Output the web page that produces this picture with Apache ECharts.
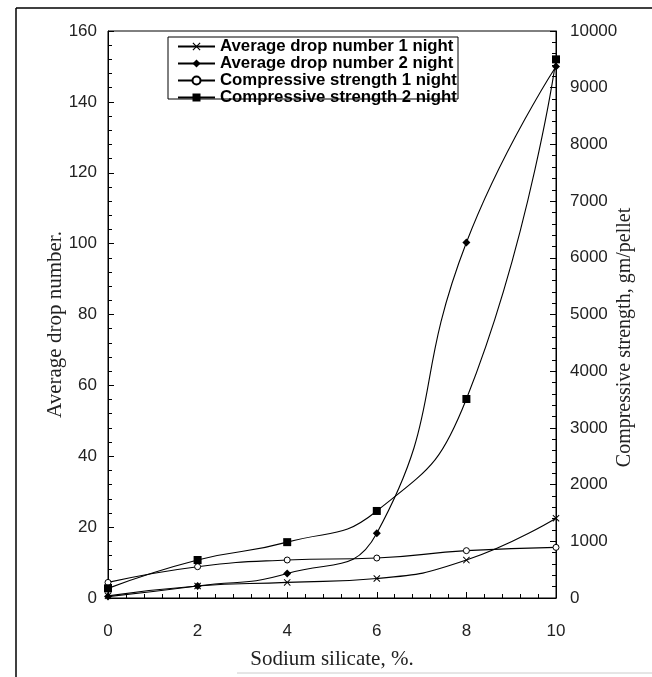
<!DOCTYPE html>
<html>
<head>
<meta charset="utf-8">
<script src="https://cdn.jsdelivr.net/npm/echarts@6/dist/echarts.min.js"></script>
<style>
  html, body { margin: 0; padding: 0; background: #fff; }
  #chart { width: 652px; height: 677px; }
</style>
</head>
<body>
<div id="chart"></div>
<script>
// values
const silicate = [0, 2, 4, 6, 8, 10];
const drop1Night = [0.6, 3.4, 4.4, 5.5, 10.7, 22.5];
const drop2Nights = [0.4, 3.4, 6.9, 18.3, 100.3, 150];
const strength1Night = [275, 552, 670, 705, 835, 893];
const strength2Nights = [170, 670, 985, 1535, 3510, 9500];

const seriesNames = [
    'Average drop number 1 night',
    'Average drop number 2 nights',
    'Compressive strength 1 night',
    'Compressive strength 2 nights'
];

const crossPath = 'path://M0,1L1,0L5,4L9,0L10,1L6,5L10,9L9,10L5,6L1,10L0,9L4,5Z';

function pairs(ys) {
    return silicate.map((x, i) => [x, ys[i]]);
}

const chart = echarts.init(document.getElementById('chart'));

const tickFont = { fontFamily: 'Liberation Sans, Arial, sans-serif', fontSize: 17, color: '#222' };
const serif = 'Liberation Serif, Times New Roman, serif';

const lineStyle = { color: '#000', width: 1.1 };

chart.setOption({
    animation: false,
    backgroundColor: '#fff',
    grid: {
        left: 108, right: 96, top: 31, bottom: 79,
        outerBoundsMode: 'none',
        show: true, borderColor: '#000', borderWidth: 1
    },
    legend: {
        orient: 'vertical',
        left: 177,
        top: 38,
        padding: 0,
        itemGap: 0,
        itemWidth: 37,
        itemHeight: 10,
        data: seriesNames,
        textStyle: {
            fontFamily: 'Liberation Sans, Arial, sans-serif',
            fontWeight: 'bold',
            fontSize: 16.8,
            lineHeight: 15.5,
            color: '#000',
            width: 241,
            overflow: 'truncate',
            ellipsis: ''
        }
    },
    xAxis: {
        type: 'value',
        min: 0, max: 10, interval: 2,
        name: 'Sodium silicate, %.',
        nameLocation: 'middle',
        nameGap: 51,
        nameMoveOverlap: false,
        nameTextStyle: { fontFamily: serif, fontSize: 21, color: '#222' },
        axisLine: { lineStyle: { color: '#000' } },
        axisTick: { inside: true, length: 6, lineStyle: { color: '#000' } },
        minorTick: { show: true, splitNumber: 5, length: 4, lineStyle: { color: '#000' } },
        axisLabel: Object.assign({ margin: 25 }, tickFont),
        splitLine: { show: false }
    },
    yAxis: [{
        type: 'value',
        min: 0, max: 160, interval: 20,
        name: 'Average drop number.',
        nameLocation: 'middle',
        nameGap: 42,
        nameMoveOverlap: false,
        nameRotate: 90,
        nameTextStyle: { fontFamily: serif, fontSize: 21, color: '#222', padding: [0, 20, 0, 0] },
        axisLine: { show: true, lineStyle: { color: '#000' } },
        axisTick: { show: true, inside: true, length: 6, lineStyle: { color: '#000' } },
        minorTick: { show: true, splitNumber: 5, length: 4, lineStyle: { color: '#000' } },
        axisLabel: Object.assign({ margin: 11 }, tickFont),
        splitLine: { show: false }
    }, {
        type: 'value',
        position: 'right',
        min: 0, max: 10000, interval: 1000,
        name: 'Compressive strength, gm/pellet',
        nameLocation: 'middle',
        nameGap: 59,
        nameMoveOverlap: false,
        nameRotate: 90,
        nameTextStyle: { fontFamily: serif, fontSize: 20, color: '#222', padding: [0, 46, 0, 0] },
        axisLine: { show: true, lineStyle: { color: '#000' } },
        axisTick: { show: true, inside: true, length: 6, lineStyle: { color: '#000' } },
        minorTick: { show: true, splitNumber: 5, length: 4, lineStyle: { color: '#000' } },
        axisLabel: Object.assign({ margin: 14, formatter: v => String(v) }, tickFont),
        splitLine: { show: false }
    }],
    graphic: [
        { type: 'line', shape: { x1: 16, y1: 8, x2: 652, y2: 8 }, style: { stroke: '#000', lineWidth: 1.5 } },
        { type: 'line', shape: { x1: 16, y1: 8, x2: 16, y2: 677 }, style: { stroke: '#000', lineWidth: 1.5 } },
        { type: 'line', shape: { x1: 237, y1: 673, x2: 652, y2: 673 }, style: { stroke: '#ccc', lineWidth: 1 } },
        { type: 'rect', shape: { x: 168, y: 37, width: 290, height: 62 }, style: { fill: 'none', stroke: '#000', lineWidth: 1 }, z: 100 }
    ],
    series: [{
        name: seriesNames[0],
        type: 'line',
        yAxisIndex: 0,
        data: pairs(drop1Night),
        smooth: true,
        symbol: crossPath,
        symbolSize: 7,
        itemStyle: { color: '#000' },
        lineStyle: lineStyle
    }, {
        name: seriesNames[1],
        type: 'line',
        yAxisIndex: 0,
        data: pairs(drop2Nights),
        smooth: true,
        symbol: 'diamond',
        symbolSize: 8,
        itemStyle: { color: '#000' },
        lineStyle: lineStyle
    }, {
        name: seriesNames[2],
        type: 'line',
        yAxisIndex: 1,
        data: pairs(strength1Night),
        smooth: true,
        symbol: 'circle',
        symbolSize: 6,
        itemStyle: { color: '#fff', borderColor: '#000', borderWidth: 1 },
        lineStyle: lineStyle
    }, {
        name: seriesNames[3],
        type: 'line',
        yAxisIndex: 1,
        data: pairs(strength2Nights),
        smooth: true,
        symbol: 'rect',
        symbolSize: 8,
        itemStyle: { color: '#000' },
        lineStyle: lineStyle
    }]
});
</script>
</body>
</html>
